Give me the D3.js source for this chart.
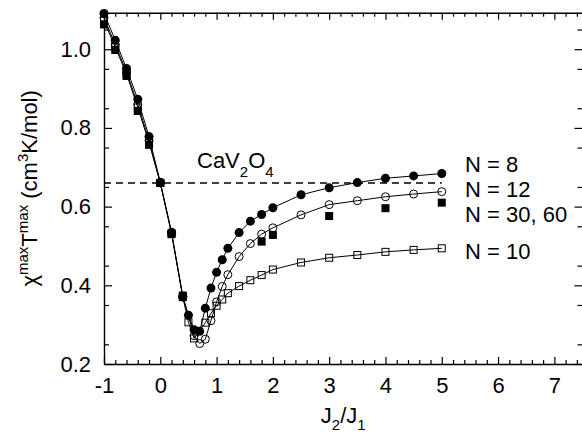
<!DOCTYPE html>
<html>
<head>
    <meta charset="utf-8">
    <script type="text/javascript" src="https://d3js.org/d3.v7.min.js"></script>
    <style>
body {
	margin: 0;
	background: #fff;
}

svg {
	display: block;
	font-family: "Liberation Sans", Arial, Helvetica, sans-serif;
}

.frame path {
	stroke: #000;
	stroke-width: 1.4;
}

.frame line {
	stroke: #000;
	stroke-width: 1.2;
}

.frame text {
	font-size: 22px;
	fill: #000;
}

.curve {
	fill: none;
	stroke: #000;
	stroke-width: 1;
}

.label {
	font-size: 22px;
	fill: #000;
}
    </style>
</head>
<body>
	<svg class="chart" width="582" height="434"></svg>

    <script type="text/javascript">

	// J2/J1 values and chi_max*T_max for each chain length
	var n8X = [-1, -0.8, -0.6, -0.4, -0.2, 0, 0.2, 0.4, 0.5, 0.6, 0.7, 0.8, 0.9, 1.0, 1.1, 1.2, 1.4, 1.6, 1.8, 2.0, 2.5, 3.0, 3.5, 4.0, 4.5, 5.0];
	var n8Y = [1.091, 1.023, 0.951, 0.873, 0.778, 0.662, 0.535, 0.372, 0.324, 0.287, 0.283, 0.342, 0.393, 0.433, 0.465, 0.494, 0.534, 0.563, 0.580, 0.597, 0.630, 0.648, 0.661, 0.672, 0.678, 0.684];

	var n12X = [-1, -0.8, -0.6, -0.4, -0.2, 0, 0.2, 0.4, 0.6, 0.7, 0.8, 0.9, 1.0, 1.1, 1.2, 1.4, 1.6, 1.8, 2.0, 2.5, 3.0, 3.5, 4.0, 4.5, 5.0];
	var n12Y = [1.080, 1.012, 0.942, 0.860, 0.768, 0.660, 0.532, 0.370, 0.272, 0.252, 0.263, 0.310, 0.358, 0.397, 0.427, 0.473, 0.506, 0.530, 0.546, 0.579, 0.605, 0.615, 0.625, 0.632, 0.638];

	var n10X = [-1, -0.8, -0.6, -0.4, -0.2, 0, 0.2, 0.4, 0.5, 0.6, 0.8, 0.9, 1.0, 1.1, 1.2, 1.4, 1.6, 1.8, 2.0, 2.5, 3.0, 3.5, 4.0, 4.5, 5.0];
	var n10Y = [1.072, 1.005, 0.937, 0.852, 0.762, 0.660, 0.532, 0.370, 0.306, 0.265, 0.305, 0.329, 0.348, 0.364, 0.380, 0.398, 0.413, 0.426, 0.440, 0.458, 0.470, 0.477, 0.485, 0.490, 0.494];

	var n30X = [-1, -0.8, -0.6, -0.4, -0.2, 0, 0.2, 0.4, 1.8, 2.0, 3.0, 4.0, 5.0];
	var n30Y = [1.063, 0.998, 0.932, 0.843, 0.757, 0.660, 0.530, 0.374, 0.511, 0.528, 0.576, 0.596, 0.610];

	// measured value for CaV2O4
	var cavValue = 0.66;
	var cavRange = [-1, 5];

	var seriesLabels = ["N = 8", "N = 12", "N = 30, 60", "N = 10"];
	var xTicks = [-1, 0, 1, 2, 3, 4, 5, 6, 7];
	var yTicks = [0.2, 0.4, 0.6, 0.8, 1.0];

	var svg = d3.select(".chart"),
		plotL = 104, plotR = 582.5, plotT = 12.7, plotB = 364;

	var xScale = d3.scaleLinear()
		.domain([-1, 7.5])
		.range([plotL, plotR]);

	var yScale = d3.scaleLinear()
		.domain([0.2, 1.0928])
		.range([plotB, plotT]);

	var xMinor = d3.range(-1, 7.5, 0.2).filter(function(d) { return Math.abs(d - Math.round(d)) > 0.01; });
	var yMinor = d3.range(0.25, 1.09, 0.1);

	function pts(xs, ys) {
		return xs.map(function(d, i) { return [d, ys[i]]; });
	}

	// frame: major + minor ticks on all four sides, pointing inward
	function addAxis(axis, transform, vals, size, labels) {
		var g = svg.append("g")
			.attr("class", "frame")
			.attr("transform", transform)
			.call(axis.tickValues(vals).tickSizeInner(-size).tickSizeOuter(0)
				.tickPadding(labels ? 13 : 0)
				.tickFormat(labels ? labels : function() { return ""; }));
		return g;
	}

	addAxis(d3.axisBottom(xScale), "translate(0," + plotB + ")", xMinor, 4, null).select(".domain").remove();
	addAxis(d3.axisBottom(xScale), "translate(0," + plotB + ")", xTicks, 7, function(d) { return String(d); });
	addAxis(d3.axisTop(xScale), "translate(0," + plotT + ")", xMinor, 4, null).select(".domain").remove();
	addAxis(d3.axisTop(xScale), "translate(0," + plotT + ")", xTicks, 7, null);

	addAxis(d3.axisLeft(yScale), "translate(" + plotL + ",0)", yMinor, 5, null).select(".domain").remove();
	addAxis(d3.axisLeft(yScale), "translate(" + plotL + ",0)", yTicks, 8, d3.format(".1f"));
	addAxis(d3.axisRight(yScale), "translate(" + plotR + ",0)", yMinor, 5, null).select(".domain").remove();
	addAxis(d3.axisRight(yScale), "translate(" + plotR + ",0)", yTicks, 8, null);

	// dashed reference line for CaV2O4
	svg.append("line")
		.attr("x1", xScale(cavRange[0]))
		.attr("x2", xScale(cavRange[1]))
		.attr("y1", yScale(cavValue))
		.attr("y2", yScale(cavValue))
		.attr("stroke", "#000")
		.attr("stroke-width", 1.5)
		.attr("stroke-dasharray", "7,5");

	var line = d3.line()
		.x(function(d) { return xScale(d[0]); })
		.y(function(d) { return yScale(d[1]); });

	[pts(n10X, n10Y), pts(n12X, n12Y), pts(n8X, n8Y)].forEach(function(s) {
		svg.append("path")
			.datum(s)
			.attr("class", "curve")
			.attr("d", line);
	});

	// N = 10 : open squares
	svg.append("g").selectAll("rect")
		.data(pts(n10X, n10Y))
		.enter().append("rect")
		.attr("x", function(d) { return xScale(d[0]) - 3.5; })
		.attr("y", function(d) { return yScale(d[1]) - 3.5; })
		.attr("width", 7)
		.attr("height", 7)
		.attr("fill", "none")
		.attr("stroke", "#000")
		.attr("stroke-width", 1);

	// N = 12 : open circles
	svg.append("g").selectAll("circle")
		.data(pts(n12X, n12Y))
		.enter().append("circle")
		.attr("cx", function(d) { return xScale(d[0]); })
		.attr("cy", function(d) { return yScale(d[1]); })
		.attr("r", 4)
		.attr("fill", "none")
		.attr("stroke", "#000")
		.attr("stroke-width", 1);

	// N = 30, 60 : filled squares
	svg.append("g").selectAll("rect")
		.data(pts(n30X, n30Y))
		.enter().append("rect")
		.attr("x", function(d) { return xScale(d[0]) - 4; })
		.attr("y", function(d) { return yScale(d[1]) - 4; })
		.attr("width", 8)
		.attr("height", 8)
		.attr("fill", "#000");

	// N = 8 : filled circles
	svg.append("g").selectAll("circle")
		.data(pts(n8X, n8Y))
		.enter().append("circle")
		.attr("cx", function(d) { return xScale(d[0]); })
		.attr("cy", function(d) { return yScale(d[1]); })
		.attr("r", 4.5)
		.attr("fill", "#000");

	// series labels on the right
	var labelY = [172, 197, 222, 259];
	svg.append("g").selectAll("text")
		.data(seriesLabels)
		.enter().append("text")
		.attr("class", "label")
		.attr("x", 465)
		.attr("y", function(d, i) { return labelY[i]; })
		.text(function(d) { return d; });

	// CaV2O4 label
	var cav = svg.append("text")
		.attr("class", "label")
		.attr("x", 197)
		.attr("y", 168);
	cav.append("tspan").text("CaV");
	cav.append("tspan").attr("dy", 9).style("font-size", "15px").text("2");
	cav.append("tspan").attr("dy", -9).text("O");
	cav.append("tspan").attr("dy", 9).style("font-size", "15px").text("4");

	// x axis title J2/J1
	var xt = svg.append("text")
		.attr("class", "label")
		.attr("x", (plotL + plotR) / 2)
		.attr("y", 423)
		.attr("text-anchor", "middle");
	xt.append("tspan").text("J");
	xt.append("tspan").attr("dy", 7).style("font-size", "15px").text("2");
	xt.append("tspan").attr("dy", -7).text("/J");
	xt.append("tspan").attr("dy", 7).style("font-size", "15px").text("1");

	// y axis title
	var yt = svg.append("text")
		.attr("class", "label")
		.attr("transform", "translate(37," + (plotT + plotB) / 2 + ") rotate(-90)")
		.attr("text-anchor", "middle");
	yt.append("tspan").text("\u03c7");
	yt.append("tspan").attr("dy", -9).style("font-size", "15px").text("max");
	yt.append("tspan").attr("dy", 9).text("T");
	yt.append("tspan").attr("dy", -9).style("font-size", "15px").text("max");
	yt.append("tspan").attr("dy", 9).text(" (cm");
	yt.append("tspan").attr("dy", -9).style("font-size", "15px").text("3");
	yt.append("tspan").attr("dy", 9).text("K/mol)");
	</script>
</body>
</html>
